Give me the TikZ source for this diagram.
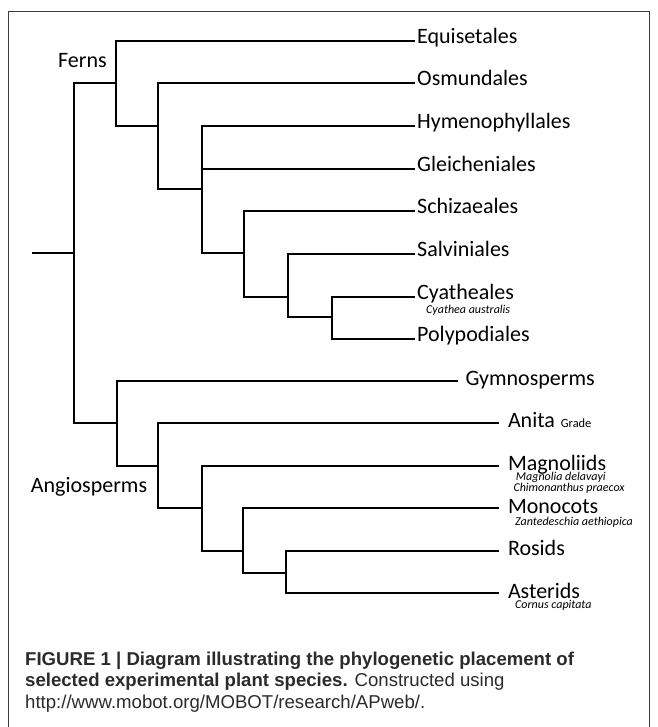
\documentclass[tikz,border=0pt]{standalone}
\usepackage{fontspec}
\setmainfont{Carlito}
\newfontfamily\capfont{Liberation Sans}
\usetikzlibrary{positioning}
\definecolor{capgray}{HTML}{2B2B2B}
\definecolor{framegray}{HTML}{3C3C3C}

\tikzset{
  branch/.style={line width=2.2pt, black},
  fernlab/.style={anchor=base west, inner sep=0pt, xshift=2pt, yshift=-2.6pt,
    font=\fontsize{22}{26}\selectfont},
  angiolab/.style={anchor=base west, inner sep=0pt, xshift=8.5pt, yshift=-4.8pt,
    font=\fontsize{22}{26}\selectfont},
  cladelab/.style={anchor=base west, inner sep=0pt, font=\fontsize{22}{26}\selectfont},
  species/.style={anchor=base west, inner sep=0pt, font=\fontsize{12}{13}\selectfont\itshape},
  gradelab/.style={inner sep=0pt, font=\fontsize{12.4}{14}\selectfont},
  caption/.style={anchor=base west, inner sep=0pt, text=capgray,
    font=\capfont\fontsize{18.6}{22}\selectfont}
}

\begin{document}
\begin{tikzpicture}[x=1pt, y=-1pt]
\useasboundingbox (0,0) rectangle (657,727);

% Draw frame
\draw[framegray, line width=1pt] (8,727) -- (8,11.7) -- (649,11.7) -- (649,727);

% Inner nodes of the tree
\coordinate (base) at (32,252.7);
\coordinate (R)  at (74,252.7);
\coordinate (F)  at (116,83.3);
\coordinate (F2) at (158,126);
\coordinate (F3) at (202,189.3);
\coordinate (F4) at (244,253);
\coordinate (F5) at (288,296.7);
\coordinate (F6) at (331.7,316.7);
\coordinate (S)  at (117,422.7);
\coordinate (A1) at (158,465.7);
\coordinate (A2) at (202,508.3);
\coordinate (A3) at (243.3,550.7);
\coordinate (A4) at (286,572.7);

% Tips
\foreach \c/\y in {equi/40.7, osmu/83.3, hyme/126, glei/168.7,
                   schi/210.7, salv/254, cyat/296.7, poly/339}
  \coordinate (\c) at (415,\y);
\coordinate (gymn) at (458.3,380.7);
\foreach \c/\y in {anit/422.7, magn/465.7, mono/508.3, rosi/550.7, aste/593.3}
  \coordinate (\c) at (499.3,\y);

% Draw branches
\draw[branch] (base) -- (R);
\foreach \p/\c in {R/F, R/S, F/equi, F/F2, F2/osmu, F2/F3, F3/hyme, F3/glei, F3/F4,
                   F4/schi, F4/F5, F5/salv, F5/F6, F6/cyat, F6/poly,
                   S/gymn, S/A1, A1/anit, A1/A2, A2/magn, A2/A3, A3/mono, A3/A4,
                   A4/rosi, A4/aste}
  \draw[branch] (\p) |- (\c);

% Tip labels
\foreach \c/\t in {equi/Equisetales, osmu/Osmundales, hyme/Hymenophyllales,
                   glei/Gleicheniales, schi/Schizaeales, salv/Salviniales,
                   cyat/Cyatheales, poly/Polypodiales}
  \node[fernlab] (\c-lab) at (\c) {\t};
\node[angiolab, xshift=-1.5pt] (gymn-lab) at (gymn) {Gymnosperms};
\foreach \c/\t in {anit/Anita, magn/Magnoliids, mono/Monocots, rosi/Rosids, aste/Asterids}
  \node[angiolab] (\c-lab) at (\c) {\t};
\node[gradelab, right=5.5pt of anit-lab.base east, anchor=base west] (grade) {Grade};

% Species
\node[species] (cyat-sp)  at (426,313.5) {Cyathea australis};
\node[species] (magn-sp1) at (515.7,480.5) {Magnolia delavayi};
\node[species] (magn-sp2) at (513.3,491) {Chimonanthus praecox};
\node[species] (mono-sp)  at (515,525)   {Zantedeschia aethiopica};
\node[species] (aste-sp)  at (515,608.5) {Cornus capitata};

% Clades
\node[cladelab] (ferns) at (58,67.5) {Ferns};
\node[cladelab] (angio) at (30.7,492) {Angiosperms};

% Caption
\node[caption] (cap1) at (25,665)
  {\textbf{FIGURE 1 | Diagram illustrating the phylogenetic placement of}};
\node[caption] (cap2) at (25,686.7)
  {\textbf{selected experimental plant species.} Constructed using};
\node[caption] (cap3) at (25,708.4) {http://www.mobot.org/MOBOT/research/APweb/.};
\end{tikzpicture}
\end{document}
